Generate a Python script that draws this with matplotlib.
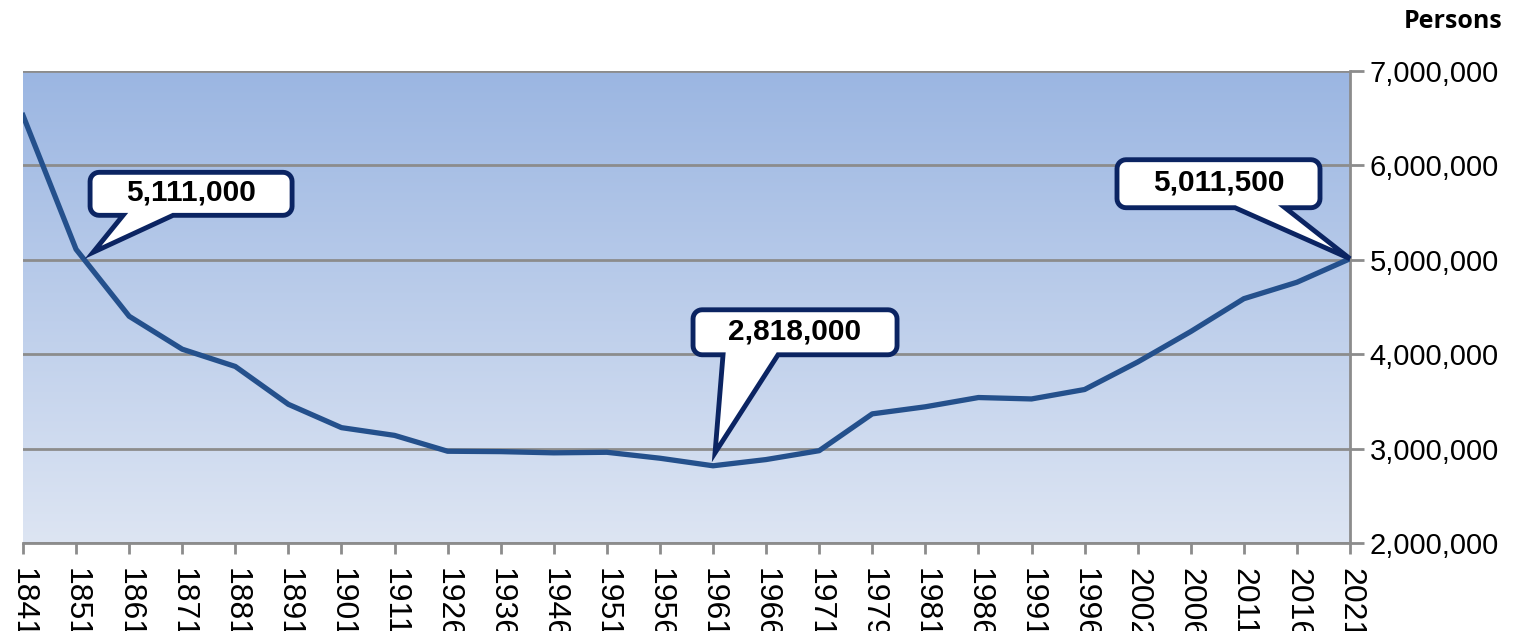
import numpy as np
import matplotlib
matplotlib.use("Agg")
import matplotlib.pyplot as plt
from matplotlib.path import Path
from matplotlib.patches import PathPatch
from matplotlib.transforms import IdentityTransform
from matplotlib.ticker import FuncFormatter

# ── Data ──────────────────────────────────────────────────────────────────────
years = ["1841", "1851", "1861", "1871", "1881", "1891", "1901", "1911", "1926",
         "1936", "1946", "1951", "1956", "1961", "1966", "1971", "1979", "1981",
         "1986", "1991", "1996", "2002", "2006", "2011", "2016", "2021"]
population = [6529000, 5111000, 4402000, 4053000, 3870000, 3469000, 3222000,
              3140000, 2972000, 2968000, 2955000, 2961000, 2898000, 2818000,
              2884000, 2978000, 3368000, 3443000, 3541000, 3526000, 3626000,
              3917000, 4240000, 4588000, 4762000, 5011500]
y_ticks = [2000000, 3000000, 4000000, 5000000, 6000000, 7000000]
callout_years = ["1851", "1961", "2021"]

LINE = "#24508C"
NAVY = "#0B2462"
GRID = "#8C8C8C"

plt.rcParams["font.family"] = ["Liberation Sans", "DejaVu Sans"]

W, H = 1524, 631
fig = plt.figure(figsize=(W / 100, H / 100), dpi=100)
ax = fig.add_axes([23 / W, 1 - 543 / H, (1350 - 23) / W, (543 - 71) / H])

x = np.arange(len(years))
ax.set_xlim(0, len(years) - 1)
ax.set_ylim(y_ticks[0], y_ticks[-1])

# gradient background
grad = np.linspace(0, 1, 256)[:, None, None]
top = np.array([155, 182, 226]) / 255
bot = np.array([221, 229, 243]) / 255
img = np.repeat(bot + (top - bot) * grad, 2, axis=1)
ax.imshow(img, extent=[0, 1, 0, 1], transform=ax.transAxes, origin="lower",
          aspect="auto", zorder=0)

for yt in y_ticks:
    ax.axhline(yt, color=GRID, lw=2, zorder=1)

ax.plot(x, population, color=LINE, lw=3.8, zorder=3)

# axes styling
for s in ["top", "left"]:
    ax.spines[s].set_visible(False)
for s in ["right", "bottom"]:
    ax.spines[s].set_color(GRID)
    ax.spines[s].set_linewidth(2)
    ax.spines[s].set_zorder(2)

ax.yaxis.tick_right()
ax.set_yticks(y_ticks)
ax.yaxis.set_major_formatter(FuncFormatter(lambda v, p: f"{v:,.0f}"))
ax.set_xticks(x)
ax.set_xticklabels(years, rotation=270, ha="center", va="top")
ax.tick_params(axis="y", length=10, width=2, color=GRID, labelsize=21, pad=4)
ax.tick_params(axis="x", length=8, width=2, color=GRID, labelsize=23, pad=10)

fig.text(1503 / W, 1 - 22 / H, "Persons", ha="right", va="center",
         fontsize=18, fontweight="bold", family="Open Sans")


# ── Callouts ──────────────────────────────────────────────────────────────────
def rounded_callout(cx, cy, w, h, r, b1, b2, tip):
    """Rounded box (display px) with a wedge from bottom edge to tip."""
    l, rgt, btm, tp = cx - w / 2, cx + w / 2, cy - h / 2, cy + h / 2
    verts = [(l + b1, btm), tip, (l + b2, btm)]

    def arc(ccx, ccy, a0, a1):
        t = np.linspace(np.radians(a0), np.radians(a1), 8)
        return list(zip(ccx + r * np.cos(t), ccy + r * np.sin(t)))

    verts += arc(rgt - r, btm + r, -90, 0)
    verts += arc(rgt - r, tp - r, 0, 90)
    verts += arc(l + r, tp - r, 90, 180)
    verts += arc(l + r, btm + r, 180, 270)
    verts.append((l + b1, btm))
    codes = [Path.MOVETO] + [Path.LINETO] * (len(verts) - 2) + [Path.CLOSEPOLY]
    return Path(verts, codes)


# (box center offset, size, tail base from box left, tip offset), pixels
callout_layout = {
    "1851": ((115, 55.5), (202, 43), (33, 83), (17, -3)),
    "1961": ((82, 133.5), (204, 45), (30, 85), (2, 13)),
    "2021": ((-131.5, 75), (203, 48), (118, 168), (0, 0)),
}

for yr in callout_years:
    i = years.index(yr)
    px, py = ax.transData.transform((i, population[i]))
    (ox, oy), (bw, bh), (b1, b2), (tx, ty) = callout_layout[yr]
    cx, cy = px + ox, py + oy
    path = rounded_callout(cx, cy, bw, bh, 9, b1, b2, (px + tx, py + ty))
    ax.add_patch(PathPatch(path, transform=IdentityTransform(), facecolor="white",
                           edgecolor=NAVY, lw=3.5, joinstyle="miter", zorder=5,
                           clip_on=False))
    fx, fy = fig.transFigure.inverted().transform((cx, cy + 1))
    fig.text(fx, fy, f"{population[i]:,}", ha="center", va="center",
             fontsize=21.5, fontweight="bold", zorder=6)

fig.savefig("out.png", dpi=100)
